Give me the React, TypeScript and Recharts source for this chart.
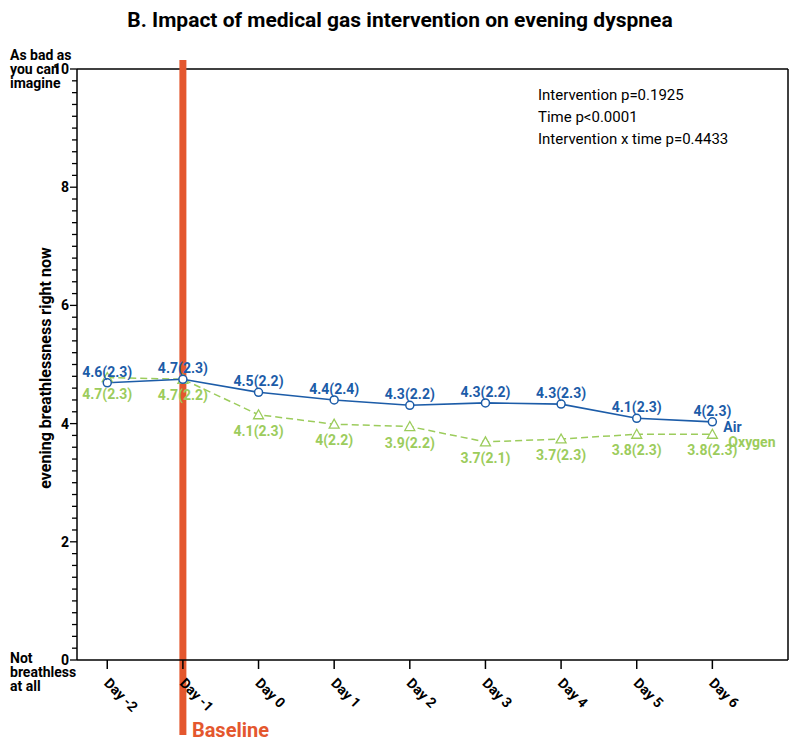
import React from "react";
import { LineChart, Line, XAxis, YAxis, ReferenceLine, LabelList } from "recharts";

const days = [-2, -1, 0, 1, 2, 3, 4, 5, 6];
const airValues = [4.69, 4.75, 4.53, 4.4, 4.31, 4.35, 4.33, 4.09, 4.03];
const oxygenValues = [4.78, 4.75, 4.15, 3.99, 3.95, 3.69, 3.74, 3.82, 3.82];
const airLabels = ["4.6(2.3)", "4.7(2.3)", "4.5(2.2)", "4.4(2.4)", "4.3(2.2)", "4.3(2.2)", "4.3(2.3)", "4.1(2.3)", "4(2.3)"];
const oxygenLabels = ["4.7(2.3)", "4.7(2.2)", "4.1(2.3)", "4(2.2)", "3.9(2.2)", "3.7(2.1)", "3.7(2.3)", "3.8(2.3)", "3.8(2.3)"];
const yMajorTicks = [0, 2, 4, 6, 8, 10];
const yTicks = Array.from({ length: 51 }, (_, i) => Math.round(i * 2) / 10);
const stats = ["Intervention p=0.1925", "Time p<0.0001", "Intervention x time p=0.4433"];

const data = days.map((d, i) => ({ day: d, air: airValues[i], oxygen: oxygenValues[i] }));

const BLUE = "#1c5ca8";
const GREEN = "#9ccc5c";
const RED = "#e4572e";
const FONT = "Roboto, 'Noto Sans', sans-serif";
const AXIS_X = 77;

const YTick = (props: any) => {
  const { y, payload } = props;
  const v = payload.value;
  const major = yMajorTicks.some((m) => Math.abs(m - v) < 1e-6);
  return (
    <g>
      <line x1={AXIS_X} x2={AXIS_X - (major ? 7 : 5)} y1={y} y2={y} stroke="#000" strokeWidth={1.3} />
      {major && (
        <text x={AXIS_X - 8} y={y} dy={5} textAnchor="end" fontSize={14} fontWeight="bold" fontFamily={FONT} fill="#000">
          {Math.round(v)}
        </text>
      )}
    </g>
  );
};

const XTick = (props: any) => {
  const { x, payload } = props;
  return (
    <g>
      <line x1={x} x2={x} y1={660} y2={669} stroke="#000" strokeWidth={1.5} />
      <text transform={`translate(${x - 4},${684}) rotate(45)`} textAnchor="start" fontSize={14} fontWeight="bold" fontFamily={FONT} fill="#000">
        {`Day ${payload.value}`}
      </text>
    </g>
  );
};

const Triangle = (props: any) => {
  const { cx, cy } = props;
  if (cx == null || cy == null) return null;
  return <path d={`M${cx},${cy - 5}L${cx + 5},${cy + 4}L${cx - 5},${cy + 4}Z`} fill="#fff" stroke={GREEN} strokeWidth={1.3} />;
};

const airLabel = (props: any) => {
  const { x, y, index } = props;
  return (
    <g>
      <text x={x} y={y - 6} textAnchor="middle" fontSize={14} fontWeight="bold" fontFamily={FONT} fill={BLUE}>
        {airLabels[index]}
      </text>
      {index === days.length - 1 && (
        <text x={x + 11} y={y + 10} fontSize={14} fontWeight="bold" fontFamily={FONT} fill={BLUE}>Air</text>
      )}
    </g>
  );
};

const oxygenLabel = (props: any) => {
  const { x, y, index } = props;
  return (
    <g>
      <text x={x} y={y + 21} textAnchor="middle" fontSize={14} fontWeight="bold" fontFamily={FONT} fill={GREEN}>
        {oxygenLabels[index]}
      </text>
      {index === days.length - 1 && (
        <text x={x + 16} y={y + 13} fontSize={14} fontWeight="bold" fontFamily={FONT} fill={GREEN}>Oxygen</text>
      )}
    </g>
  );
};

const BaselineShape = (props: any) => {
  const { x1, y1, y2 } = props;
  const top = Math.min(y1, y2);
  const bottom = Math.max(y1, y2);
  return (
    <g>
      <line x1={x1} x2={x1} y1={top - 9} y2={bottom + 75} stroke={RED} strokeWidth={7} />
      <text x={x1 + 9} y={bottom + 77} fontSize={20} fontWeight="bold" fontFamily={FONT} fill={RED}>Baseline</text>
    </g>
  );
};

export default function App() {
  return (
    <div style={{ position: "absolute", left: 0, top: 0, width: 800, height: 743, background: "#fff" }}>
      <LineChart width={800} height={743} data={data} margin={{ top: 69, right: 12, bottom: 0, left: 17 }}>
        <text x={400} y={27} textAnchor="middle" fontSize={21} fontWeight="bold" fontFamily={FONT} fill="#000">
          B. Impact of medical gas intervention on evening dyspnea
        </text>
        {["As bad as", "you can", "imagine"].map((t, i) => (
          <text key={t} x={10} y={60 + i * 14} fontSize={14} fontWeight="bold" fontFamily={FONT} fill="#000">{t}</text>
        ))}
        {["Not", "breathless", "at all"].map((t, i) => (
          <text key={t} x={10} y={663 + i * 14} fontSize={14} fontWeight="bold" fontFamily={FONT} fill="#000">{t}</text>
        ))}
        <text transform="translate(51,368) rotate(-90)" textAnchor="middle" fontSize={16} fontWeight="bold" fontFamily={FONT} fill="#000">
          evening breathlessness right now
        </text>
        {stats.map((t, i) => (
          <text key={t} x={538} y={100 + i * 22} fontSize={15} fontFamily={FONT} fill="#000">{t}</text>
        ))}
        <XAxis
          dataKey="day"
          type="number"
          domain={[-2.4, 7]}
          ticks={days}
          height={83}
          tickLine={false}
          tick={<XTick />}
          axisLine={{ stroke: "#000", strokeWidth: 1.5 }}
          interval={0}
        />
        <YAxis
          type="number"
          domain={[0, 10]}
          ticks={yTicks}
          width={60}
          interval={0}
          tickLine={false}
          tick={<YTick />}
          axisLine={{ stroke: "#000", strokeWidth: 1.5 }}
        />
        <ReferenceLine y={10} stroke="#000" strokeWidth={1.5} />
        <ReferenceLine x={7} stroke="#000" strokeWidth={1.5} />
        <ReferenceLine x={-1} shape={BaselineShape} />
        <Line
          dataKey="oxygen"
          stroke={GREEN}
          strokeWidth={1.5}
          strokeDasharray="7 4"
          dot={<Triangle />}
          isAnimationActive={false}
        >
          <LabelList dataKey="oxygen" content={oxygenLabel} />
        </Line>
        <Line
          dataKey="air"
          stroke={BLUE}
          strokeWidth={1.6}
          dot={{ r: 4, fill: "#fff", stroke: BLUE, strokeWidth: 1.5 }}
          isAnimationActive={false}
        >
          <LabelList dataKey="air" content={airLabel} />
        </Line>
      </LineChart>
    </div>
  );
}
